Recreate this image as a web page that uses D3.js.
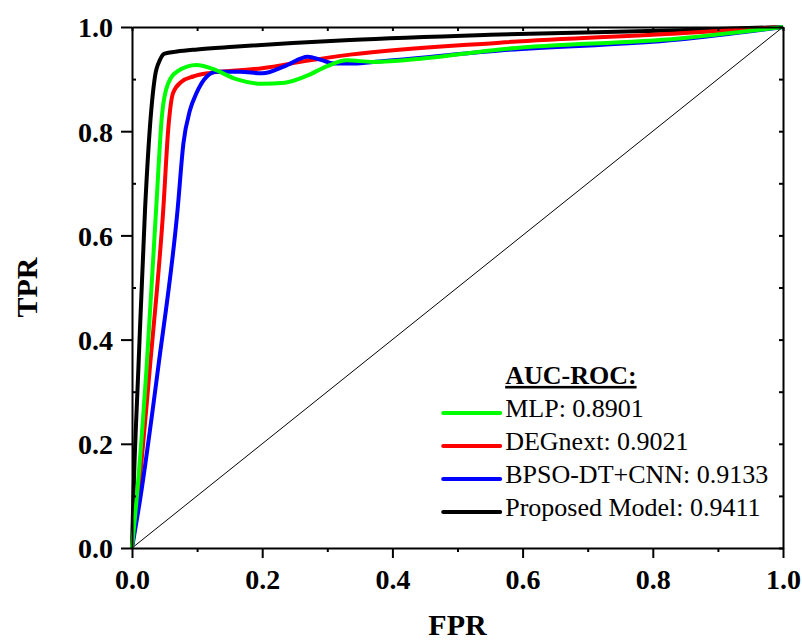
<!DOCTYPE html>
<html>
<head>
<meta charset="utf-8">
<script src="https://cdn.jsdelivr.net/npm/d3@7"></script>
<style>
  body { margin: 0; background: #fff; }
  text { font-family: "Liberation Serif", "Times New Roman", serif; }
</style>
</head>
<body>
<svg id="roc" width="802" height="642"></svg>
<script>
// ROC points
var mlpFpr = [0, 0.007, 0.0225, 0.037, 0.046, 0.055, 0.07, 0.099, 0.125, 0.16, 0.2, 0.235, 0.268, 0.3, 0.33, 0.37, 0.45, 0.565, 0.84, 1];
var mlpTpr = [0, 0.092, 0.348, 0.649, 0.83, 0.89, 0.915, 0.927, 0.919, 0.9, 0.891, 0.893, 0.906, 0.925, 0.936, 0.933, 0.94, 0.957, 0.978, 1];

var degFpr = [0, 0.0087, 0.0276, 0.048, 0.056, 0.063, 0.076, 0.094, 0.12, 0.166, 0.2, 0.268, 0.335, 0.565, 0.842, 1];
var degTpr = [0, 0.092, 0.348, 0.649, 0.809, 0.873, 0.895, 0.905, 0.912, 0.917, 0.921, 0.935, 0.947, 0.97, 0.988, 1];

var bpsoFpr = [0, 0.0123, 0.0404, 0.07, 0.079, 0.089, 0.099, 0.115, 0.13, 0.166, 0.2, 0.235, 0.27, 0.29, 0.31, 0.34, 0.38, 0.565, 0.84, 1];
var bpsoTpr = [0, 0.092, 0.348, 0.649, 0.777, 0.84, 0.873, 0.905, 0.914, 0.914, 0.911, 0.925, 0.943, 0.937, 0.93, 0.93, 0.934, 0.955, 0.976, 1];

var propFpr = [0, 0.002, 0.01, 0.02, 0.0276, 0.0353, 0.043, 0.05, 0.069, 0.1, 0.156, 0.335, 0.55, 0.842, 1];
var propTpr = [0, 0.092, 0.35, 0.649, 0.809, 0.905, 0.937, 0.949, 0.953, 0.957, 0.962, 0.975, 0.985, 0.994, 1];

var names = ["MLP: 0.8901", "DEGnext: 0.9021", "BPSO-DT+CNN: 0.9133", "Proposed Model: 0.9411"];
var colors = ["#00ff00", "#ff0000", "#0000ff", "#000000"];
var majorTicks = [0, 0.2, 0.4, 0.6, 0.8, 1.0];
var minorTicks = [0.1, 0.3, 0.5, 0.7, 0.9];

var series = [
  {name: names[0], color: colors[0], fpr: mlpFpr, tpr: mlpTpr},
  {name: names[1], color: colors[1], fpr: degFpr, tpr: degTpr},
  {name: names[2], color: colors[2], fpr: bpsoFpr, tpr: bpsoTpr},
  {name: names[3], color: colors[3], fpr: propFpr, tpr: propTpr}
];

var svg = d3.select("#roc");
var margin = {top: 27, right: 19, bottom: 94, left: 132};
var width = +svg.attr("width") - margin.left - margin.right;
var height = +svg.attr("height") - margin.top - margin.bottom;
var g = svg.append("g").attr("transform", "translate(" + margin.left + "," + margin.top + ")");

var x = d3.scaleLinear().domain([0, 1]).range([0, width]);
var y = d3.scaleLinear().domain([0, 1]).range([height, 0]);
var fmt = d3.format(".1f");

// diagonal reference
g.append("line")
  .attr("x1", x(0)).attr("y1", y(0))
  .attr("x2", x(1)).attr("y2", y(1))
  .attr("stroke", "#000").attr("stroke-width", 1);

var line = d3.line()
  .x(function(d) { return x(d[0]); })
  .y(function(d) { return y(d[1]); })
  .curve(d3.curveMonotoneX);

// draw order: black, red, blue, green on top
[3, 1, 2, 0].forEach(function(i) {
  var s = series[i];
  g.append("path")
    .datum(d3.zip(s.fpr, s.tpr))
    .attr("fill", "none")
    .attr("stroke", s.color)
    .attr("stroke-width", 4)
    .attr("stroke-linejoin", "round")
    .attr("d", line);
});

// axes
function styleAxis(sel) {
  sel.select(".domain").attr("stroke-width", 2);
  sel.selectAll(".tick line").attr("stroke-width", 2);
  sel.selectAll("text")
    .attr("font-size", 28).attr("font-weight", "bold")
    .attr("font-family", "Liberation Serif, Times New Roman, serif")
    .attr("fill", "#000");
}

var xAxis = g.append("g")
  .attr("transform", "translate(0," + height + ")")
  .call(d3.axisBottom(x).tickValues(majorTicks).tickFormat(fmt).tickSize(10).tickPadding(6).tickSizeOuter(0));
styleAxis(xAxis);
xAxis.selectAll("text").attr("dy", "0.9em");

var yAxis = g.append("g")
  .call(d3.axisLeft(y).tickValues(majorTicks).tickFormat(fmt).tickSize(11).tickPadding(8).tickSizeOuter(0));
styleAxis(yAxis);
yAxis.selectAll("text").attr("dy", "0.35em");

g.append("g")
  .call(d3.axisTop(x).tickValues(majorTicks.concat(minorTicks)).tickFormat("").tickSize(-4).tickSizeOuter(0))
  .call(styleAxis);
g.append("g")
  .attr("transform", "translate(" + width + ",0)")
  .call(d3.axisRight(y).tickValues(majorTicks.concat(minorTicks)).tickFormat("").tickSize(-4).tickSizeOuter(0))
  .call(styleAxis);

// minor ticks on bottom and left
g.append("g")
  .attr("transform", "translate(0," + height + ")")
  .call(d3.axisBottom(x).tickValues(minorTicks).tickFormat("").tickSize(4).tickSizeOuter(0))
  .call(styleAxis)
  .select(".domain").remove();
g.append("g")
  .call(d3.axisLeft(y).tickValues(minorTicks).tickFormat("").tickSize(-4).tickSizeOuter(0))
  .call(styleAxis)
  .select(".domain").remove();

// axis titles
svg.append("text")
  .attr("x", margin.left + width / 2).attr("y", 635)
  .attr("text-anchor", "middle")
  .attr("font-size", 30).attr("font-weight", "bold")
  .text("FPR");
svg.append("text")
  .attr("transform", "translate(37," + (margin.top + height / 2) + ") rotate(-90)")
  .attr("text-anchor", "middle")
  .attr("font-size", 30).attr("font-weight", "bold")
  .text("TPR");

// legend
var legend = g.append("g").attr("transform", "translate(" + (x(0.478) ) + "," + y(0.315) + ")");
legend.append("text")
  .attr("x", 62).attr("y", 0)
  .attr("font-size", 26).attr("font-weight", "bold")
  .attr("text-decoration", "underline")
  .text("AUC-ROC:");
var items = legend.selectAll(".item")
  .data(series)
  .enter().append("g")
    .attr("class", "item")
    .attr("transform", function(d, i) { return "translate(0," + (29 + i * 33) + ")"; });
items.append("line")
  .attr("x1", 0).attr("x2", 57)
  .attr("stroke", function(d) { return d.color; })
  .attr("stroke-width", 4)
  .attr("stroke-linecap", "round");
items.append("text")
  .attr("x", 62).attr("y", 4.5)
  .attr("font-size", 26)
  .text(function(d) { return d.name; });
</script>
</body>
</html>
